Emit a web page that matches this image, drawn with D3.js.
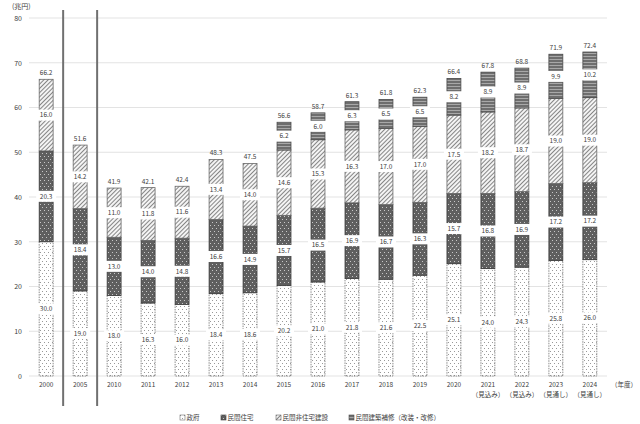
<!DOCTYPE html>
<html>
<head>
<meta charset="utf-8">
<script src="https://cdn.jsdelivr.net/npm/d3@7"></script>
<style>
  body { margin: 0; background: #fff; }
  text { font-family: "Noto Sans CJK JP", "Noto Sans", sans-serif; }
</style>
</head>
<body>
<script>
// Data
var years = ["2000", "2005", "2010", "2011", "2012", "2013", "2014", "2015", "2016",
             "2017", "2018", "2019", "2020", "2021", "2022", "2023", "2024"];
var subLabels = ["", "", "", "", "", "", "", "", "", "", "", "", "",
                 "（見込み）", "（見込み）", "（見通し）", "（見通し）"];
var govt   = [30.0, 19.0, 18.0, 16.3, 16.0, 18.4, 18.6, 20.2, 21.0, 21.8, 21.6, 22.5, 25.1, 24.0, 24.3, 25.8, 26.0];
var house  = [20.3, 18.4, 13.0, 14.0, 14.8, 16.6, 14.9, 15.7, 16.5, 16.9, 16.7, 16.3, 15.7, 16.8, 16.9, 17.2, 17.2];
var nonres = [16.0, 14.2, 11.0, 11.8, 11.6, 13.4, 14.0, 14.6, 15.3, 16.3, 17.0, 17.0, 17.5, 18.2, 18.7, 19.0, 19.0];
var repair = [null, null, null, null, null, null, null, 6.2, 6.0, 6.3, 6.5, 6.5, 8.2, 8.9, 8.9, 9.9, 10.2];
var totals = [66.2, 51.6, 41.9, 42.1, 42.4, 48.3, 47.5, 56.6, 58.7, 61.3, 61.8, 62.3, 66.4, 67.8, 68.8, 71.9, 72.4];
var seriesNames = ["政府", "民間住宅", "民間非住宅建設", "民間建築補修（改装・改修）"];
var yTicks = [0, 10, 20, 30, 40, 50, 60, 70, 80];

var svgWidth = 640;
var svgHeight = 424;

var svg = d3.select("body")
            .append("svg")
            .attr("width", svgWidth)
            .attr("height", svgHeight);

// Patterns for each series
var defs = svg.append("defs");

var pGov = defs.append("pattern").attr("id", "p0")
               .attr("patternUnits", "userSpaceOnUse").attr("width", 4).attr("height", 6);
pGov.append("rect").attr("width", 4).attr("height", 6).attr("fill", "#fff");
pGov.append("rect").attr("x", 0).attr("y", 0).attr("width", 1).attr("height", 1).attr("fill", "#999");
pGov.append("rect").attr("x", 2).attr("y", 3).attr("width", 1).attr("height", 1).attr("fill", "#999");

var pHouse = defs.append("pattern").attr("id", "p1")
                 .attr("patternUnits", "userSpaceOnUse").attr("width", 4).attr("height", 6);
pHouse.append("rect").attr("width", 4).attr("height", 6).attr("fill", "#5f5f5f");
pHouse.append("rect").attr("x", 0).attr("y", 0).attr("width", 1).attr("height", 1).attr("fill", "#c8c8c8");
pHouse.append("rect").attr("x", 2).attr("y", 3).attr("width", 1).attr("height", 1).attr("fill", "#c8c8c8");

var pNon = defs.append("pattern").attr("id", "p2")
               .attr("patternUnits", "userSpaceOnUse").attr("width", 3).attr("height", 3)
               .attr("patternTransform", "rotate(45)");
pNon.append("rect").attr("width", 3).attr("height", 3).attr("fill", "#f4f4f4");
pNon.append("rect").attr("width", 0.9).attr("height", 3).attr("fill", "#7a7a7a");

var pRep = defs.append("pattern").attr("id", "p3")
               .attr("patternUnits", "userSpaceOnUse").attr("width", 4).attr("height", 3);
pRep.append("rect").attr("width", 4).attr("height", 3).attr("fill", "#6e6e6e");
pRep.append("rect").attr("y", 2).attr("width", 4).attr("height", 1).attr("fill", "#a8a8a8");

var strokes = ["#707070", "#3a3a3a", "#6a6a6a", "#4a4a4a"];

// Scales
var x = d3.scaleBand()
          .domain(years)
          .range([29, 607])
          .paddingInner(0.59)
          .paddingOuter(0.3);

var y = d3.scaleLinear()
          .domain([0, 80])
          .range([376, 18]);

// Gridlines
svg.append("g")
   .selectAll("line")
   .data(yTicks)
   .enter()
   .append("line")
   .attr("x1", 29).attr("x2", 607)
   .attr("y1", d => y(d)).attr("y2", d => y(d))
   .attr("stroke", "#dcdcdc")
   .attr("stroke-width", 0.8);

// Y axis
var yAxis = svg.append("g")
               .attr("transform", "translate(29,0)")
               .call(d3.axisLeft(y).tickValues(yTicks).tickSize(0).tickPadding(7));
yAxis.select(".domain").remove();
yAxis.selectAll("text").style("font-size", "7px").attr("fill", "#404040");

svg.append("text")
   .attr("x", 12).attr("y", 9)
   .style("font-size", "7px").attr("fill", "#404040")
   .text("(兆円)");

// Stack the series
var rows = years.map(function(yr, i) {
  return { year: yr, s0: govt[i], s1: house[i], s2: nonres[i], s3: repair[i] || 0, raw3: repair[i], total: totals[i] };
});
var stacked = d3.stack().keys(["s0", "s1", "s2", "s3"])(rows);

var bars = svg.append("g");
stacked.forEach(function(layer, k) {
  bars.selectAll(null)
      .data(layer.filter(d => d[1] - d[0] > 0))
      .enter()
      .append("rect")
      .attr("x", d => x(d.data.year))
      .attr("width", x.bandwidth())
      .attr("y", d => y(d[1]))
      .attr("height", d => y(d[0]) - y(d[1]))
      .attr("fill", "url(#p" + k + ")")
      .attr("stroke", strokes[k])
      .attr("stroke-width", 0.8)
      .attr("stroke-dasharray", k === 0 ? "1.5,1" : null);
});

// Segment value labels on white boxes
var labels = svg.append("g");
stacked.forEach(function(layer, k) {
  var g = labels.selectAll(null)
                .data(layer.filter(d => d[1] - d[0] > 0))
                .enter()
                .append("g")
                .attr("transform", d => "translate(" + (x(d.data.year) + x.bandwidth() / 2) + "," + y((d[0] + d[1]) / 2) + ")");
  g.append("rect")
   .attr("x", -10).attr("y", -5.5)
   .attr("width", 20).attr("height", 11)
   .attr("fill", "#fff");
  g.append("text")
   .attr("text-anchor", "middle")
   .attr("dy", "0.35em")
   .style("font-size", "6.5px")
   .attr("fill", "#404040")
   .text(d => d[1] - d[0] >= 0 ? (d.data["s" + k]).toFixed(1) : "");
});

// Totals above bars
svg.append("g")
   .selectAll("text")
   .data(rows)
   .enter()
   .append("text")
   .attr("x", d => x(d.year) + x.bandwidth() / 2)
   .attr("y", (d, i) => y(stacked[3][i][1]) - 4)
   .attr("text-anchor", "middle")
   .style("font-size", "6.5px")
   .attr("fill", "#404040")
   .text(d => d.total.toFixed(1));

// X axis labels
var xLab = svg.append("g");
xLab.selectAll(null)
    .data(years)
    .enter()
    .append("text")
    .attr("x", d => x(d) + x.bandwidth() / 2)
    .attr("y", 387)
    .attr("text-anchor", "middle")
    .style("font-size", "6.5px")
    .attr("fill", "#404040")
    .text(d => d);
xLab.selectAll(null)
    .data(years)
    .enter()
    .append("text")
    .attr("x", d => x(d) + x.bandwidth() / 2)
    .attr("y", 397)
    .attr("text-anchor", "middle")
    .style("font-size", "6.5px")
    .attr("fill", "#404040")
    .text((d, i) => subLabels[i]);

svg.append("text")
   .attr("x", 611).attr("y", 387)
   .style("font-size", "6.5px")
   .attr("fill", "#404040")
   .text("（年度）");

// Vertical separator lines between 2000 / 2005 / 2010
var seps = [[years[0], years[1]], [years[1], years[2]]];
svg.append("g")
   .selectAll("line")
   .data(seps)
   .enter()
   .append("line")
   .attr("x1", d => (x(d[0]) + x(d[1]) + x.bandwidth()) / 2)
   .attr("x2", d => (x(d[0]) + x(d[1]) + x.bandwidth()) / 2)
   .attr("y1", 10).attr("y2", 406)
   .attr("stroke", "#707070")
   .attr("stroke-width", 2);

// Legend
var legendX = [180, 221, 276, 349];
var legend = svg.append("g")
                .selectAll("g")
                .data(seriesNames)
                .enter()
                .append("g")
                .attr("transform", (d, i) => "translate(" + legendX[i] + ",415)");
legend.append("rect")
      .attr("width", 5).attr("height", 5)
      .attr("fill", (d, i) => "url(#p" + i + ")")
      .attr("stroke", (d, i) => strokes[i])
      .attr("stroke-width", 0.6);
legend.append("text")
      .attr("x", 6.5).attr("y", 5)
      .style("font-size", "6.5px")
      .attr("fill", "#404040")
      .text(d => d);
</script>
</body>
</html>
